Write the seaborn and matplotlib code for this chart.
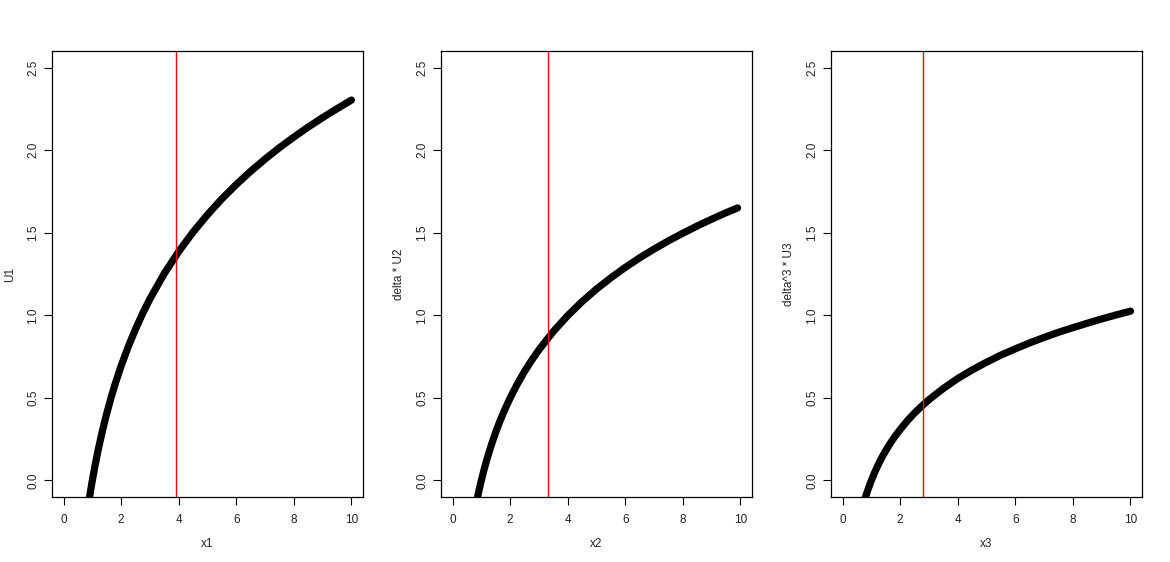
import numpy as np
import pandas as pd
import matplotlib
matplotlib.use("Agg")
import matplotlib.pyplot as plt
import seaborn as sns

# values
x1 = [0.88, 0.95, 1.0, 1.1, 1.2, 1.3, 1.4, 1.5, 1.65, 1.8, 2.0, 2.25, 2.5, 2.75, 3.0, 3.5, 4.0,
      4.5, 5.0, 5.5, 6.0, 6.5, 7.0, 7.5, 8.0, 8.5, 9.0, 9.5, 10.0]
u1 = [-0.128, -0.051, 0.0, 0.095, 0.182, 0.262, 0.336, 0.405, 0.501, 0.588, 0.693, 0.811, 0.916,
      1.012, 1.099, 1.253, 1.386, 1.504, 1.609, 1.705, 1.792, 1.872, 1.946, 2.015, 2.079, 2.140,
      2.197, 2.251, 2.303]

x2 = [0.85, 0.93, 1.0, 1.1, 1.2, 1.3, 1.4, 1.5, 1.65, 1.8, 2.0, 2.25, 2.5, 2.75, 3.0, 3.5, 4.0,
      4.5, 5.0, 5.5, 6.0, 6.5, 7.0, 7.5, 8.0, 8.5, 9.0, 9.5, 9.9]
u2 = [-0.117, -0.052, 0.0, 0.069, 0.131, 0.189, 0.242, 0.292, 0.361, 0.423, 0.499, 0.584, 0.660,
      0.728, 0.791, 0.902, 0.998, 1.083, 1.159, 1.227, 1.290, 1.348, 1.401, 1.451, 1.497, 1.541,
      1.582, 1.621, 1.650]

x3 = [0.76, 0.85, 1.0, 1.1, 1.2, 1.3, 1.4, 1.5, 1.65, 1.8, 2.0, 2.25, 2.5, 2.75, 3.0, 3.5, 4.0,
      4.5, 5.0, 5.5, 6.0, 6.5, 7.0, 7.5, 8.0, 8.5, 9.0, 9.5, 10.0]
u3 = [-0.122, -0.072, 0.0, 0.042, 0.081, 0.117, 0.150, 0.180, 0.223, 0.262, 0.308, 0.361, 0.408,
      0.450, 0.489, 0.557, 0.617, 0.669, 0.716, 0.759, 0.797, 0.833, 0.866, 0.897, 0.925, 0.952,
      0.978, 1.002, 1.025]

vlines = [3.9, 3.32, 2.8]
xlabels = ["x1", "x2", "x3"]
ylabels = ["U1", "delta * U2", "delta^3 * U3"]

sns.set_style("white")
plt.rcParams["font.family"] = ["Liberation Sans", "DejaVu Sans"]

fig = plt.figure(figsize=(11.7, 5.62), dpi=100)
lefts = [52 / 1170, 441 / 1170, 831 / 1170]
series = [(x1, u1), (x2, u2), (x3, u3)]

for i in range(3):
    ax = fig.add_axes([lefts[i], 1 - 497 / 562, 311 / 1170, 446 / 562])
    df = pd.DataFrame({"x": series[i][0], "y": series[i][1]})
    sns.lineplot(data=df, x="x", y="y", ax=ax, color="black", linewidth=5.2,
                 solid_capstyle="round", solid_joinstyle="round", sort=False)
    ax.axvline(vlines[i], color="red", linewidth=1)

    ax.set_xlim(-0.4, 10.4)
    ax.set_ylim(-0.1, 2.6)
    ax.set_xticks([0, 2, 4, 6, 8, 10])
    ax.set_yticks([0.0, 0.5, 1.0, 1.5, 2.0, 2.5])
    ax.set_yticklabels(["0.0", "0.5", "1.0", "1.5", "2.0", "2.5"], rotation=90, va="center")
    ax.tick_params(axis="both", direction="out", length=6, width=0.8, color="black",
                   labelsize=8.5, labelcolor="#222222", left=True, bottom=True)
    ax.tick_params(axis="x", pad=6)
    ax.tick_params(axis="y", pad=3)
    for s in ax.spines.values():
        s.set_color("black")
        s.set_linewidth(0.9)
    ax.set_xlabel(xlabels[i], fontsize=8.5, color="#222222", labelpad=9)
    ax.set_ylabel(ylabels[i], fontsize=8.5, color="#222222", labelpad=8)

fig.savefig("out.png", dpi=100)
